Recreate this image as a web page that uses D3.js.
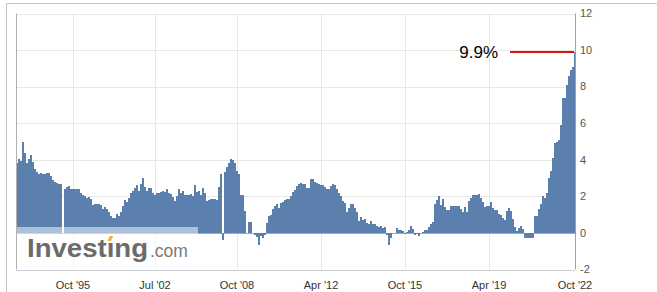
<!DOCTYPE html>
<html>
<head>
<meta charset="utf-8">
<script src="https://cdn.jsdelivr.net/npm/d3@7"></script>
<style>
  body { margin: 0; background: #fff; }
  svg { display: block; font-family: "Liberation Sans", Arial, sans-serif; }
</style>
</head>
<body>
<div id="chart"></div>
<script>
// one value per release (null = missing release)
const values = [
  3.85, 4.07, 3.95, 4.95, 4.35, 3.8, 4.07, 4.25, 3.9, 3.5,
  3.33, 3.2, 3.3, 3.2, 3.2, 3.3, 3.3, 3.1, 2.9, 2.78,
  2.72, 2.7, 2.65, null, 2.38, 2.5, 2.55, 2.4, 2.38, 2.38,
  2.38, 2.38, 2.2, 2.05, 2.0, 1.93, 1.95, 1.85, 1.55, 1.58,
  1.6, 1.6, 1.55, 1.32, 1.4, 1.3, 1.15, 0.95, 0.82, 0.82,
  1.02, 0.95, 1.12, 1.45, 1.8, 1.7, 1.9, 2.2, 2.3, 2.45,
  2.6, 2.3, 2.7, 3.0, 2.5, 2.3, 2.45, 2.45, 2.2, 2.05,
  2.2, 2.2, 2.25, 2.3, 2.25, 2.4, 2.2, 2.15, 1.97, 1.75,
  2.0, 2.4, 2.2, 2.3, 2.1, 2.05, 2.1, 2.15, 2.0, 2.6,
  2.25, 2.3, 2.1, 2.47, 2.2, 1.72, 1.8, 1.87, 1.87, 1.87,
  1.8, 2.5, 3.2, -0.37, 3.35, 3.6, 3.8, 4.03, 4.0, 3.85,
  3.4, 3.25, 2.1, 2.1, 1.19, 0, 0.58, 0.58, 0, -0.1,
  -0.2, -0.65, -0.15, -0.27, -0.1, 0.55, 0.9, 1.0, 1.3, 1.5,
  1.6, 1.37, 1.65, 1.7, 1.8, 1.87, 1.87, 2.0, 2.25, 2.37,
  2.55, 2.7, 2.75, 2.7, 2.65, 2.47, 2.47, 2.96, 2.96, 2.8,
  2.75, 2.65, 2.6, 2.6, 2.5, 2.38, 2.38, 2.56, 2.7, 2.6,
  2.42, 2.16, 2.0, 1.74, 1.65, 1.13, 1.37, 1.6, 1.6, 1.37,
  1.13, 0.64, 0.88, 0.7, 0.77, 0.55, 0.5, 0.64, 0.5, 0.5,
  0.4, 0.33, 0.4, 0.27, 0.3, -0.1, -0.64, -0.27, 0, 0,
  0.27, 0.18, 0.18, 0.1, -0.05, 0.05, 0.15, 0.36, 0.2, -0.1,
  -0.05, -0.18, 0, 0.04, 0.18, 0.18, 0.35, 0.5, 0.58, 1.6,
  1.8, 2.0, 1.55, 1.87, 1.4, 1.28, 1.28, 1.45, 1.5, 1.45,
  1.45, 1.45, 1.3, 1.15, 1.4, 1.15, 1.75, 1.9, 2.05, 2.05,
  2.1, 2.15, 1.9, 1.7, 1.4, 1.45, 1.45, 1.7, 1.35, 1.25,
  1.25, 1.05, 1.0, 0.8, 0.73, 1.2, 1.37, 1.2, 0.75, 0.3,
  0.1, 0.27, 0.37, 0.2, -0.3, -0.3, -0.3, -0.3, -0.3, 0.9,
  0.9, 1.3, 1.6, 2.0, 1.9, 2.2, 3.0, 3.4, 4.1, 4.9,
  5.0, 5.1, 5.9, 7.4, 7.4, 8.1, 8.6, 8.9, 9.1, 9.9
];
const tickIndex = [28, 69, 110, 152, 194, 236, 279];
const tickLabels = ["Oct '95", "Jul '02", "Oct '08", "Apr '12", "Oct '15", "Apr '19", "Oct '22"];
const yTicks = [-2, 0, 2, 4, 6, 8, 10, 12];
const lastLabel = "9.9%";

const width = 657, height = 292;
const m = { left: 16, right: 576, top: 13.5, bottom: 269.5 };
const barColor = "#5b80ae";

const svg = d3.select("#chart")
  .append("svg")
  .attr("width", width)
  .attr("height", height);

svg.append("rect").attr("width", width).attr("height", height).attr("fill", "#fff");

// outer frame (top + left edge of the widget)
svg.append("path")
  .attr("d", `M6.5,${height}V3.5H${width}`)
  .attr("fill", "none")
  .attr("stroke", "#c4c4c4");

const x = d3.scaleBand()
  .domain(d3.range(values.length))
  .range([m.left, m.right])
  .padding(0);

const y = d3.scaleLinear()
  .domain([-2, 12])
  .range([m.bottom, m.top]);

const cx = i => Math.round(x(i) + x.bandwidth() / 2) + 0.5;
const cy = v => Math.round(y(v)) + 0.5;

// grid
svg.append("g")
  .selectAll("line")
  .data(yTicks)
  .join("line")
  .attr("x1", m.left).attr("x2", m.right - 1)
  .attr("y1", cy).attr("y2", cy)
  .attr("stroke", d => d === -2 ? "#c9cfd6" : "#e8e8e8");

svg.append("g")
  .selectAll("line")
  .data(tickIndex.slice(0, -1))
  .join("line")
  .attr("x1", cx).attr("x2", cx)
  .attr("y1", m.top).attr("y2", m.bottom)
  .attr("stroke", "#e8e8e8");

// zero line sits under the bars
svg.append("line")
  .attr("x1", m.left).attr("x2", m.right - 1)
  .attr("y1", cy(0)).attr("y2", cy(0))
  .attr("stroke", "#a9a9a9");

svg.append("g")
  .selectAll("rect")
  .data(values.map((v, i) => ({ i, v })).filter(d => d.v !== null && d.v !== 0))
  .join("rect")
  .attr("x", d => x(d.i))
  .attr("width", x.bandwidth())
  .attr("y", d => y(Math.max(0, d.v)))
  .attr("height", d => Math.abs(y(d.v) - y(0)))
  .attr("fill", barColor)
  .attr("shape-rendering", "crispEdges");

// left border + right axis line
svg.append("line")
  .attr("x1", m.left + 0.5).attr("x2", m.left + 0.5)
  .attr("y1", m.top).attr("y2", m.bottom)
  .attr("stroke", "#b0b0b0");
svg.append("line")
  .attr("x1", m.right - 0.5).attr("x2", m.right - 0.5)
  .attr("y1", m.top).attr("y2", m.bottom)
  .attr("stroke", "#a0a0a0");

// y labels on the right
svg.append("g")
  .selectAll("text")
  .data(yTicks)
  .join("text")
  .attr("x", m.right + 4)
  .attr("y", d => y(d))
  .attr("dy", "0.35em")
  .attr("font-size", 11)
  .attr("fill", "#555")
  .text(d => d);

// x labels
svg.append("g")
  .selectAll("text")
  .data(tickIndex)
  .join("text")
  .attr("x", d => x(d) + x.bandwidth() / 2)
  .attr("y", 289)
  .attr("text-anchor", "middle")
  .attr("font-size", 11)
  .attr("fill", "#333")
  .text((d, i) => tickLabels[i]);

// watermark
svg.append("rect")
  .attr("x", m.left + 1).attr("y", 227)
  .attr("width", 181).attr("height", m.bottom - 227)
  .attr("fill", "#fff")
  .attr("opacity", 0.5);

svg.append("text")
  .attr("x", 27).attr("y", 257)
  .attr("font-size", 26.5)
  .attr("font-weight", "bold")
  .attr("fill", "#6b6b6b")
  .attr("textLength", 121)
  .attr("lengthAdjust", "spacingAndGlyphs")
  .text("Invest\u0131ng");
svg.append("text")
  .attr("x", 150).attr("y", 257)
  .attr("font-size", 17.5)
  .attr("fill", "#7a7a7a")
  .text(".com");
svg.append("polygon")
  .attr("points", "107.5,241 109.8,236 113.2,236 110.9,241")
  .attr("fill", "#f4b030");

// last value marker
const last = values.length - 1;
const ly = y(values[last]);
svg.append("line")
  .attr("x1", 510).attr("x2", x(last))
  .attr("y1", ly).attr("y2", ly)
  .attr("stroke", "#e01010")
  .attr("stroke-width", 2);
svg.append("text")
  .attr("x", 498).attr("y", ly)
  .attr("dy", "0.36em")
  .attr("text-anchor", "end")
  .attr("font-size", 17)
  .attr("fill", "#000")
  .text(lastLabel);
</script>
</body>
</html>
